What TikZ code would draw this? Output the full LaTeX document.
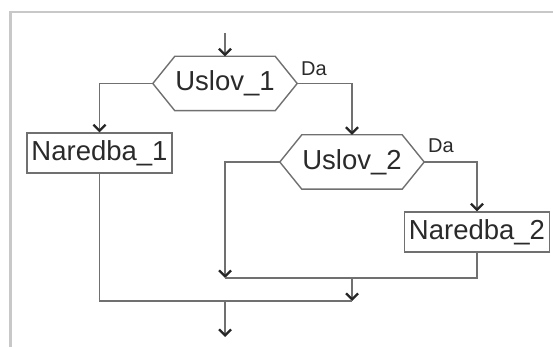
\documentclass[tikz,border=0pt]{standalone}
\usepackage{fontspec}
\setmainfont{Liberation Sans}
\usetikzlibrary{arrows.meta}
\definecolor{linegray}{HTML}{707070}
\definecolor{txtgray}{HTML}{2A2A2A}
\definecolor{framegray}{HTML}{C8C8C8}
\begin{document}
\begin{tikzpicture}[x=1pt,y=-1pt,
  every node/.style={text=txtgray, font=\fontsize{27.5}{30}\selectfont},
  box/.style={draw=linegray, line width=1.4pt, minimum width=145pt, minimum height=40pt, inner sep=0pt},
  hexcore/.style={minimum width=100pt, minimum height=54pt, inner sep=0pt},
  hexline/.style={draw=linegray, line width=1.4pt},
  conn/.style={draw=linegray, line width=1.3pt},
  arr/.style={conn, -{Straight Barb[length=6pt,width=12pt,line width=2.3pt,color=black!85]}},
  lbl/.style={font=\fontsize{20}{22}\selectfont}
]
\useasboundingbox (0,0) rectangle (553,347);
% frame
\draw[framegray, line width=2pt] (10,12) -- (553,12);
\draw[framegray, line width=3pt] (10,11) -- (10,347);

% decision 1
\node[hexcore] (u1) at (225,83.5) {Uslov\_1};
\coordinate (u1w) at ([xshift=-22pt]u1.west);
\coordinate (u1e) at ([xshift=22pt]u1.east);
\draw[hexline] (u1.north west) -- (u1.north east) -- (u1e) -- (u1.south east) -- (u1.south west) -- (u1w) -- cycle;

% decision 2
\node[hexcore] (u2) at (352,162) {Uslov\_2};
\coordinate (u2w) at ([xshift=-22pt]u2.west);
\coordinate (u2e) at ([xshift=22pt]u2.east);
\draw[hexline] (u2.north west) -- (u2.north east) -- (u2e) -- (u2.south east) -- (u2.south west) -- (u2w) -- cycle;

% statements
\node[box] (n1) at (99.5,153) {Naredba\_1};
\node[box] (n2) at (477,232) {Naredba\_2};

% labels
\node[lbl] (da1) at (314,69) {Da};
\node[lbl] (da2) at (441,146) {Da};

% connectors
\coordinate (top) at (225,33);
\coordinate (m1l) at (225,278);
\coordinate (m1c) at (352,278);
\coordinate (m2r) at (352,301);
\coordinate (m2c) at (225,301);
\coordinate (out) at (225,337);

\draw[arr] (top) -- (u1.north);
\draw[arr] (u1w) -| (n1.north);
\draw[arr] (u1e) -| (u2.north);
\draw[arr] (u2e) -| (n2.north);
\draw[arr] (u2w) -| (m1l);
\draw[conn] (n2.south) |- (m1l);
\draw[arr] (m1c) -- (m2r);
\draw[conn] (n1.south) |- (m2r);
\draw[arr] (m2c) -- (out);
\end{tikzpicture}
\end{document}
